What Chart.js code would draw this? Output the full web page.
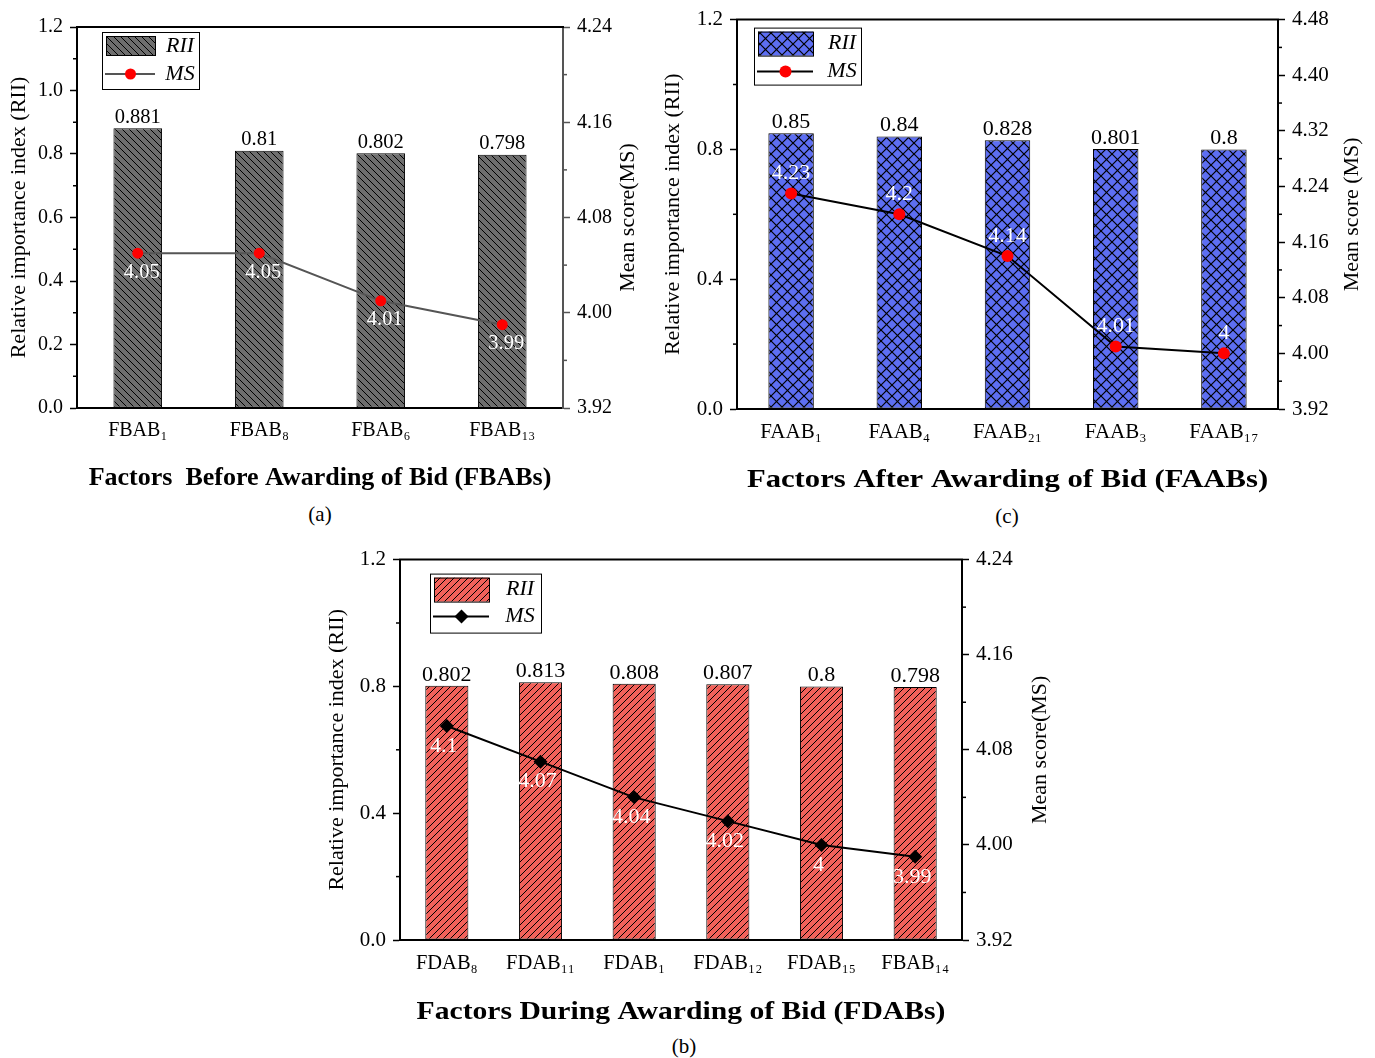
<!DOCTYPE html>
<html>
<head>
<meta charset="utf-8">
<script src="https://cdn.jsdelivr.net/npm/chart.js@4.4.1/dist/chart.umd.min.js"></script>
<style>
    body { margin: 0; background: #fff; width: 1375px; height: 1058px; position: relative; overflow: hidden; }
    canvas { position: absolute; }
    .tag { position: absolute; font-family: 'Liberation Serif', 'Times New Roman', serif; font-size: 21px; color: #000; transform: translate(-50%, -50%); }
</style>
</head>
<body>
<canvas id="chart-a" width="640" height="495" style="left:0px; top:0px;"></canvas>
<canvas id="chart-c" width="725" height="497" style="left:650px; top:0px;"></canvas>
<canvas id="chart-b" width="760" height="490" style="left:310px; top:540px;"></canvas>
<div class="tag" style="left:320px; top:514px;">(a)</div>
<div class="tag" style="left:1007px; top:516px;">(c)</div>
<div class="tag" style="left:684px; top:1046px;">(b)</div>

<script>
const SERIF = "'Liberation Serif', 'Times New Roman', serif";

// Factors before awarding of bid
const fbabLabels = ['FBAB₁', 'FBAB₈', 'FBAB₆', 'FBAB₁₃'];
const fbabRii = [0.881, 0.81, 0.802, 0.798];
const fbabMs = [4.05, 4.05, 4.01, 3.99];

// Factors after awarding of bid
const faabLabels = ['FAAB₁', 'FAAB₄', 'FAAB₂₁', 'FAAB₃', 'FAAB₁₇'];
const faabRii = [0.85, 0.84, 0.828, 0.801, 0.8];
const faabMs = [4.23, 4.2, 4.14, 4.01, 4.0];

// Factors during awarding of bid
const fdabLabels = ['FDAB₈', 'FDAB₁₁', 'FDAB₁', 'FDAB₁₂', 'FDAB₁₅', 'FBAB₁₄'];
const fdabRii = [0.802, 0.813, 0.808, 0.807, 0.8, 0.798];
const fdabMs = [4.1, 4.07, 4.04, 4.02, 4.0, 3.99];

// tick values
const riiTicksFine = [0, 0.2, 0.4, 0.6, 0.8, 1.0, 1.2];
const riiTicksCoarse = [0, 0.4, 0.8, 1.2];
const msTicksShort = [3.92, 4.00, 4.08, 4.16, 4.24];
const msTicksLong = [3.92, 4.00, 4.08, 4.16, 4.24, 4.32, 4.40, 4.48];

function hatch(bg, dir, size, lw) {
    const c = document.createElement('canvas');
    c.width = size;
    c.height = size;
    const g = c.getContext('2d');
    g.fillStyle = bg;
    g.fillRect(0, 0, size, size);
    g.strokeStyle = '#000';
    g.lineWidth = lw;
    for (let k = -1; k <= 1; k++) {
        if (dir === 'back' || dir === 'cross') {
            g.beginPath(); g.moveTo(k * size, 0); g.lineTo(k * size + size, size); g.stroke();
        }
        if (dir === 'fwd' || dir === 'cross') {
            g.beginPath(); g.moveTo(k * size, size); g.lineTo(k * size + size, 0); g.stroke();
        }
    }
    return g.createPattern(c, 'repeat');
}

function drawMarker(ctx, style, x, y, r, color) {
    ctx.fillStyle = color;
    ctx.beginPath();
    if (style === 'rectRot') {
        ctx.moveTo(x, y - r); ctx.lineTo(x + r, y); ctx.lineTo(x, y + r); ctx.lineTo(x - r, y);
        ctx.closePath();
    } else {
        ctx.arc(x, y, r, 0, Math.PI * 2);
    }
    ctx.fill();
}

function makePanelPlugin(cfg) {
    return {
        id: 'panel',
        afterDatasetsDraw(chart) {
            const ctx = chart.ctx;
            const bars = chart.getDatasetMeta(0).data;
            const pts = chart.getDatasetMeta(1).data;
            ctx.save();
            ctx.textAlign = 'center';
            ctx.textBaseline = 'middle';
            ctx.font = cfg.labelSize + 'px ' + SERIF;
            ctx.fillStyle = '#000';
            bars.forEach((el, i) => ctx.fillText(String(cfg.rii[i]), el.x, el.y - 11));
            ctx.fillStyle = '#fff';
            pts.forEach((el, i) => ctx.fillText(String(cfg.ms[i]), el.x + cfg.msDx, el.y + cfg.msDy));
            ctx.restore();
        },
        afterDraw(chart) {
            const ctx = chart.ctx;
            const area = chart.chartArea;
            ctx.save();
            // top frame line
            ctx.strokeStyle = '#000';
            ctx.lineWidth = 2;
            ctx.beginPath();
            ctx.moveTo(area.left - 1, area.top);
            ctx.lineTo(area.right + 1, area.top);
            ctx.stroke();

            // minor ticks halfway between major ones
            [['y', area.left, -1, '#000'], ['y1', area.right, 1, cfg.rightAxisColor]].forEach(([id, x, dir, color]) => {
                const s = chart.scales[id];
                const t = s.ticks.map(k => k.value);
                ctx.strokeStyle = color;
                ctx.lineWidth = 1.5;
                for (let i = 0; i < t.length - 1; i++) {
                    const py = s.getPixelForValue((t[i] + t[i + 1]) / 2);
                    ctx.beginPath();
                    ctx.moveTo(x, py);
                    ctx.lineTo(x + dir * 4, py);
                    ctx.stroke();
                }
            });

            // right axis title, reading bottom to top like the left one
            ctx.fillStyle = '#000';
            ctx.textAlign = 'center';
            ctx.textBaseline = 'middle';
            ctx.font = '22px ' + SERIF;
            ctx.save();
            ctx.translate(chart.width - cfg.rightTitleOffset, (area.top + area.bottom) / 2);
            ctx.rotate(-Math.PI / 2);
            ctx.fillText(cfg.rightTitle, 0, 0);
            ctx.restore();

            // x axis title (bold, a little wide in the original)
            ctx.font = 'bold 26px ' + SERIF;
            ctx.save();
            ctx.translate((area.left + area.right) / 2, chart.height - cfg.xTitleOffset);
            ctx.scale(cfg.xTitleStretch, 1);
            ctx.fillText(cfg.xTitle, 0, 0);
            ctx.restore();

            // legend box
            const L = cfg.legend;
            const x0 = area.left + L.x;
            const y0 = area.top + L.y;
            ctx.fillStyle = '#fff';
            ctx.fillRect(x0, y0, L.w, L.h);
            ctx.strokeStyle = '#000';
            ctx.lineWidth = 1;
            ctx.strokeRect(x0 + 0.5, y0 + 0.5, L.w, L.h);
            ctx.fillStyle = cfg.pattern;
            ctx.fillRect(x0 + 4, y0 + 4, L.sw, L.sh);
            ctx.strokeRect(x0 + 4.5, y0 + 4.5, L.sw, L.sh);
            const ly = y0 + L.row2;
            ctx.strokeStyle = cfg.lineColor;
            ctx.lineWidth = 2;
            ctx.beginPath();
            ctx.moveTo(x0 + 3, ly);
            ctx.lineTo(x0 + 4 + L.sw, ly);
            ctx.stroke();
            drawMarker(ctx, cfg.pointStyle, x0 + 4 + L.sw / 2, ly, cfg.pointRadius, cfg.pointColor);
            ctx.fillStyle = '#000';
            ctx.font = 'italic 22px ' + SERIF;
            ctx.fillText('RII', x0 + L.textX, y0 + L.row1);
            ctx.fillText('MS', x0 + L.textX, ly);
            ctx.restore();
        }
    };
}

function buildChart(id, cfg) {
    const tickFont = { family: SERIF, size: cfg.tickSize };
    return new Chart(document.getElementById(id), {
        type: 'bar',
        data: {
            labels: cfg.labels,
            datasets: [
                {
                    type: 'bar',
                    label: 'RII',
                    data: cfg.rii,
                    yAxisID: 'y',
                    backgroundColor: cfg.pattern,
                    borderColor: '#000',
                    borderWidth: 1,
                    borderSkipped: false,
                    barPercentage: cfg.barPct,
                    categoryPercentage: 1,
                    order: 1
                },
                {
                    type: 'line',
                    label: 'MS',
                    data: cfg.ms,
                    yAxisID: 'y1',
                    borderColor: cfg.lineColor,
                    borderWidth: 2,
                    tension: 0,
                    pointStyle: cfg.pointStyle,
                    pointRadius: cfg.pointRadius,
                    pointBackgroundColor: cfg.pointColor,
                    pointBorderColor: cfg.pointColor,
                    pointBorderWidth: 0,
                    order: 0
                }
            ]
        },
        options: {
            responsive: false,
            animation: false,
            layout: { padding: { top: cfg.padTop, left: 0, right: 0, bottom: 0 } },
            plugins: { legend: { display: false }, tooltip: { enabled: false } },
            scales: {
                x: {
                    offset: true,
                    grid: { display: false, drawTicks: false },
                    border: { display: true, color: '#000', width: 2 },
                    ticks: { color: '#000', font: { family: SERIF, size: cfg.xTickSize }, padding: 11, maxRotation: 0, autoSkip: false },
                    afterFit: s => { s.height = cfg.xHeight; }
                },
                y: {
                    position: 'left',
                    min: 0,
                    max: 1.2,
                    afterBuildTicks: s => { s.ticks = cfg.leftTicks.map(v => ({ value: v })); },
                    grid: { drawOnChartArea: false, drawTicks: true, tickLength: 7, tickWidth: 1.5, tickColor: '#000' },
                    border: { display: true, color: '#000', width: 2 },
                    ticks: { color: '#000', font: tickFont, padding: 7, callback: v => v.toFixed(1) },
                    title: {
                        display: true,
                        text: 'Relative importance index (RII)',
                        color: '#000',
                        font: { family: SERIF, size: 22 },
                        padding: { top: cfg.leftTitlePad, bottom: 0 }
                    },
                    afterFit: s => { s.width = cfg.leftWidth; }
                },
                y1: {
                    position: 'right',
                    min: cfg.rightTicks[0],
                    max: cfg.rightTicks[cfg.rightTicks.length - 1],
                    afterBuildTicks: s => { s.ticks = cfg.rightTicks.map(v => ({ value: v })); },
                    grid: { drawOnChartArea: false, drawTicks: true, tickLength: 7, tickWidth: 1.5, tickColor: cfg.rightAxisColor },
                    border: { display: true, color: cfg.rightAxisColor, width: 2 },
                    ticks: { color: '#000', font: tickFont, padding: 7, callback: v => v.toFixed(2) },
                    afterFit: s => { s.width = cfg.rightWidth; }
                }
            }
        },
        plugins: [makePanelPlugin(cfg)]
    });
}

// (a) before awarding
buildChart('chart-a', {
    labels: fbabLabels, rii: fbabRii, ms: fbabMs,
    leftTicks: riiTicksFine, rightTicks: msTicksShort,
    pattern: hatch('#6e6e6e', 'back', 7, 1),
    barPct: 0.40,
    lineColor: '#555555', rightAxisColor: '#555555',
    pointStyle: 'circle', pointRadius: 5.5, pointColor: '#ff0000',
    msDx: 4, msDy: 19,
    tickSize: 20, xTickSize: 20, labelSize: 20.5,
    xTitle: 'Factors  Before Awarding of Bid (FBABs)', xTitleOffset: 17, xTitleStretch: 1.0, xHeight: 87,
    rightTitle: 'Mean score(MS)', rightTitleOffset: 12,
    padTop: 27, leftWidth: 77, rightWidth: 77, leftTitlePad: 6,
    legend: { x: 25, y: 5, w: 97, h: 57, sw: 49, sh: 19, textX: 78, row1: 14, row2: 42 }
});

// (c) after awarding
buildChart('chart-c', {
    labels: faabLabels, rii: faabRii, ms: faabMs,
    leftTicks: riiTicksCoarse, rightTicks: msTicksLong,
    pattern: hatch('#5d6ef2', 'cross', 11, 1.2),
    barPct: 0.42,
    lineColor: '#000000', rightAxisColor: '#000000',
    pointStyle: 'circle', pointRadius: 6, pointColor: '#ff0000',
    msDx: 0, msDy: -20,
    tickSize: 21, xTickSize: 21, labelSize: 22,
    xTitle: 'Factors After Awarding of Bid (FAABs)', xTitleOffset: 17, xTitleStretch: 1.18, xHeight: 88,
    rightTitle: 'Mean score (MS)', rightTitleOffset: 23,
    padTop: 17, leftWidth: 87, rightWidth: 97, leftTitlePad: 10,
    legend: { x: 17, y: 8, w: 107, h: 57, sw: 55, sh: 24, textX: 88, row1: 16, row2: 44 }
});

// (b) during awarding
buildChart('chart-b', {
    labels: fdabLabels, rii: fdabRii, ms: fdabMs,
    leftTicks: riiTicksCoarse, rightTicks: msTicksShort,
    pattern: hatch('#f2615a', 'fwd', 7, 1),
    barPct: 0.46,
    lineColor: '#000000', rightAxisColor: '#000000',
    pointStyle: 'rectRot', pointRadius: 7, pointColor: '#000000',
    msDx: -3, msDy: 20,
    tickSize: 21, xTickSize: 20.5, labelSize: 22,
    xTitle: 'Factors During Awarding of Bid (FDABs)', xTitleOffset: 18, xTitleStretch: 1.14, xHeight: 90,
    rightTitle: 'Mean score(MS)', rightTitleOffset: 30,
    padTop: 13, leftWidth: 90, rightWidth: 108, leftTitlePad: 14,
    legend: { x: 30, y: 14, w: 111, h: 59, sw: 55, sh: 24, textX: 90, row1: 16, row2: 43 }
});
</script>
</body>
</html>
